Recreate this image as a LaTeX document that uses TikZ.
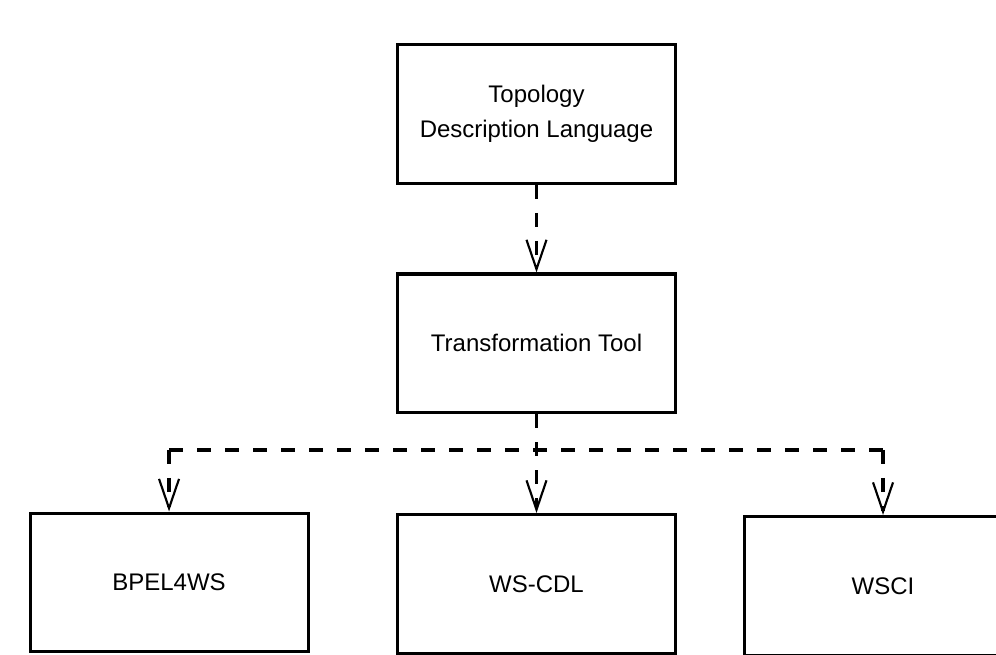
\documentclass[tikz,border=0pt]{standalone}
\usepackage{fontspec}
\setmainfont{Liberation Sans}
\usetikzlibrary{arrows.meta, positioning}
\tikzstyle{block} = [rectangle, minimum width=208.5pt, minimum height=104pt, text centered, align=center, draw=black, line width=2.3pt, font=\fontsize{18pt}{26pt}\selectfont]
\tikzstyle{dline} = [line width=2.6pt, dash pattern=on 10.5pt off 10.5pt]
\tikzstyle{arrow} = [dline, -{Straight Barb[length=22pt, width=15pt, line width=1.6pt]}]

\begin{document}
\begin{tikzpicture}[x=0.75pt, y=-0.75pt]
%background
\clip (0,0) rectangle (996,655);
%nodes
\node (tdl) [block] at (536.5,114) {Topology\\Description Language};
\node (trans) [block, below of=tdl, node distance=172pt] {Transformation Tool};
\node (wscdl) [block, below of=trans, node distance=180.4pt] {WS-CDL};
\node (bpel) [block, left of=wscdl, node distance=275.6pt, yshift=1.1pt] {BPEL4WS};
\node (wsci) [block, right of=wscdl, node distance=259.9pt, yshift=-1.5pt] {WSCI};
\coordinate (split) at (536,450);

%arrows
\draw [arrow] (tdl) -- (trans);
\draw [arrow] (trans) -- (wscdl);
\draw [dline] (bpel |- split) -- (wsci |- split);
\draw [arrow] (bpel |- split) -- (bpel);
\draw [arrow] (wsci |- split) -- (wsci);
\end{tikzpicture}
\end{document}
